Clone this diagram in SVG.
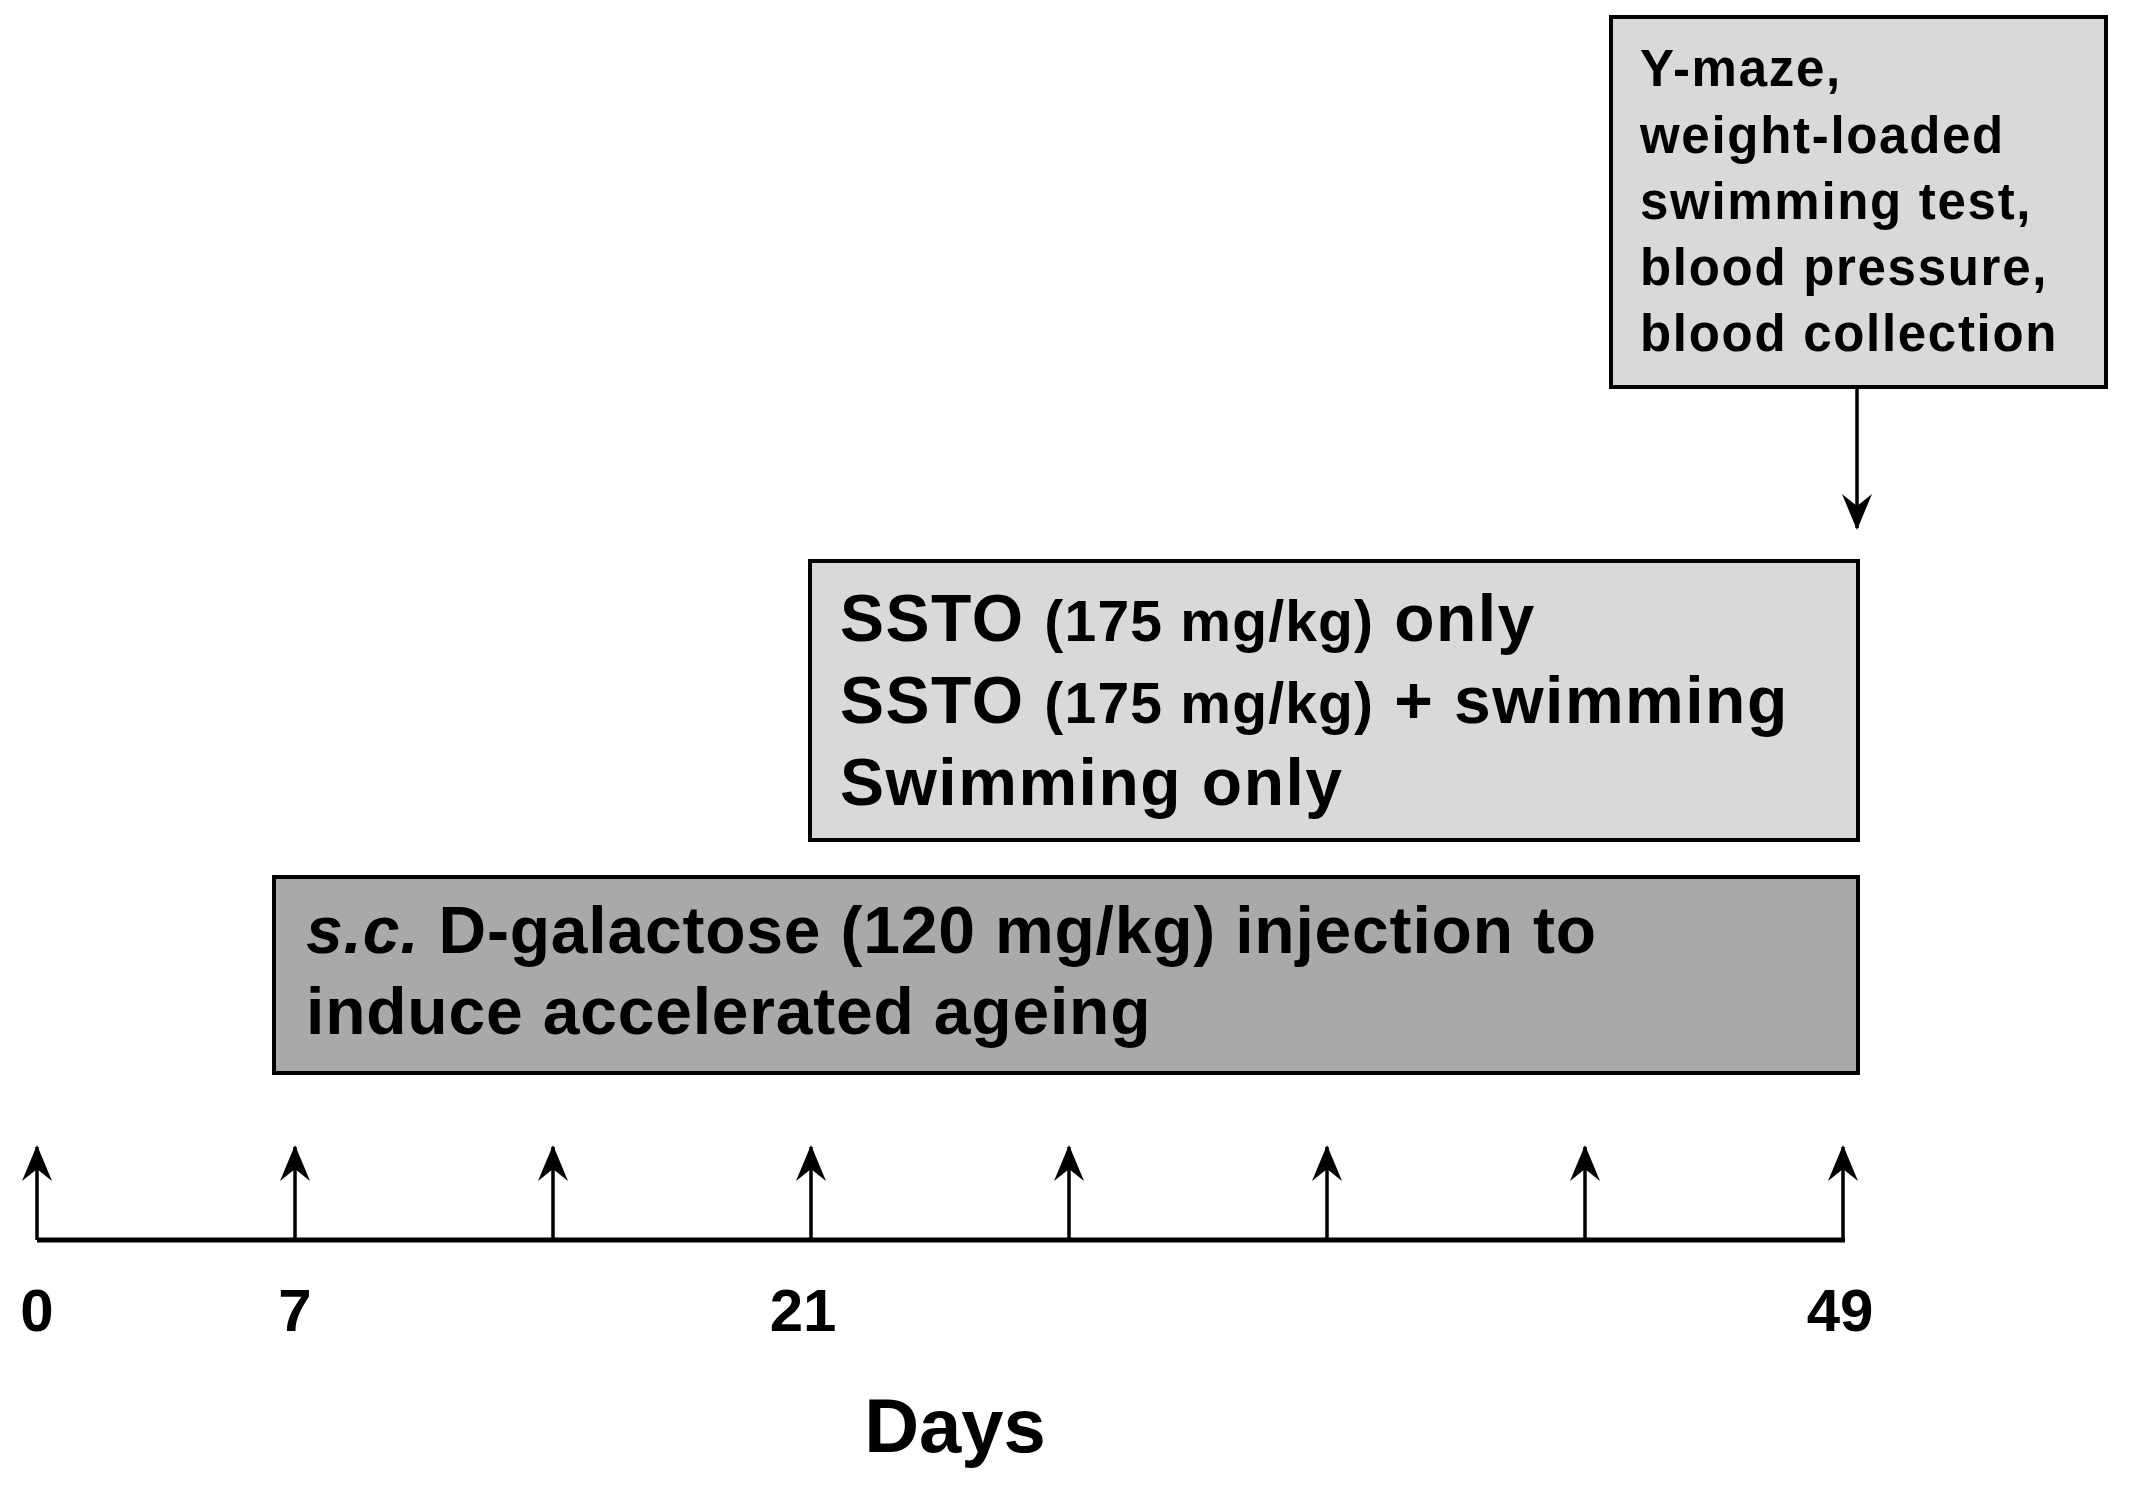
<svg xmlns="http://www.w3.org/2000/svg" width="2130" height="1486" viewBox="0 0 2130 1486">
<style>
  .box { stroke: #000; stroke-width: 4; }
  .light { fill: #d9d9d9; }
  .dark { fill: #a9a9a9; }
  .t { font-family: "Liberation Sans", Arial, sans-serif; font-weight: bold; fill: #000; }
  .conn { stroke: #000; stroke-width: 3.5; fill: none; }
</style>
<defs>
  <marker id="ah" markerUnits="userSpaceOnUse" markerWidth="50" markerHeight="50" refX="36" refY="17" orient="auto">
    <path d="M38,17 L2,2 L14,17 L2,32 Z" fill="#000"/>
  </marker>
</defs>
<rect width="2130" height="1486" fill="#fff"/>

<g id="tests">
  <rect class="box light" x="1611" y="17" width="495" height="370"/>
  <text class="t" font-size="51" x="1640" y="86" letter-spacing="1.7">Y-maze,</text>
  <text class="t" font-size="51" x="1640" y="153" letter-spacing="1.7">weight-loaded</text>
  <text class="t" font-size="51" x="1640" y="219" letter-spacing="1.7">swimming test,</text>
  <text class="t" font-size="51" x="1640" y="285" letter-spacing="1.7">blood pressure,</text>
  <text class="t" font-size="51" x="1640" y="351" letter-spacing="1.7">blood collection</text>
</g>

<g id="treatments">
  <rect class="box light" x="810" y="561" width="1048" height="279"/>
  <text class="t" font-size="66" x="840" y="641" letter-spacing="1.5">SSTO <tspan font-size="57" letter-spacing="1.2">(175 mg/kg)</tspan> only</text>
  <text class="t" font-size="66" x="840" y="723" letter-spacing="1.5">SSTO <tspan font-size="57" letter-spacing="1.2">(175 mg/kg)</tspan> + swimming</text>
  <text class="t" font-size="66" x="840" y="805" letter-spacing="1.5">Swimming only</text>
</g>

<g id="galactose">
  <rect class="box dark" x="274" y="877" width="1584" height="196"/>
  <text class="t" font-size="66" x="306" y="953" letter-spacing="0.8"><tspan font-style="italic">s.c.</tspan> D-galactose (120 mg/kg) injection to</text>
  <text class="t" font-size="66" x="306" y="1034" letter-spacing="0.8">induce accelerated ageing</text>
</g>

<g id="axis">
  <line x1="37" y1="1240" x2="1845" y2="1240" stroke="#000" stroke-width="5"/>
  <text class="t" font-size="60" x="37" y="1331" text-anchor="middle">0</text>
  <text class="t" font-size="60" x="295" y="1331" text-anchor="middle">7</text>
  <text class="t" font-size="60" x="803" y="1331" text-anchor="middle">21</text>
  <text class="t" font-size="60" x="1840" y="1331" text-anchor="middle">49</text>
  <text class="t" font-size="76" x="955" y="1452" text-anchor="middle">Days</text>
</g>

<g id="connectors">
  <line class="conn" x1="1857" y1="387" x2="1857" y2="528" marker-end="url(#ah)"/>
  <line class="conn" x1="37" y1="1240" x2="37" y2="1147" marker-end="url(#ah)"/>
  <line class="conn" x1="295" y1="1240" x2="295" y2="1147" marker-end="url(#ah)"/>
  <line class="conn" x1="553" y1="1240" x2="553" y2="1147" marker-end="url(#ah)"/>
  <line class="conn" x1="811" y1="1240" x2="811" y2="1147" marker-end="url(#ah)"/>
  <line class="conn" x1="1069" y1="1240" x2="1069" y2="1147" marker-end="url(#ah)"/>
  <line class="conn" x1="1327" y1="1240" x2="1327" y2="1147" marker-end="url(#ah)"/>
  <line class="conn" x1="1585" y1="1240" x2="1585" y2="1147" marker-end="url(#ah)"/>
  <line class="conn" x1="1843" y1="1240" x2="1843" y2="1147" marker-end="url(#ah)"/>
</g>
</svg>
